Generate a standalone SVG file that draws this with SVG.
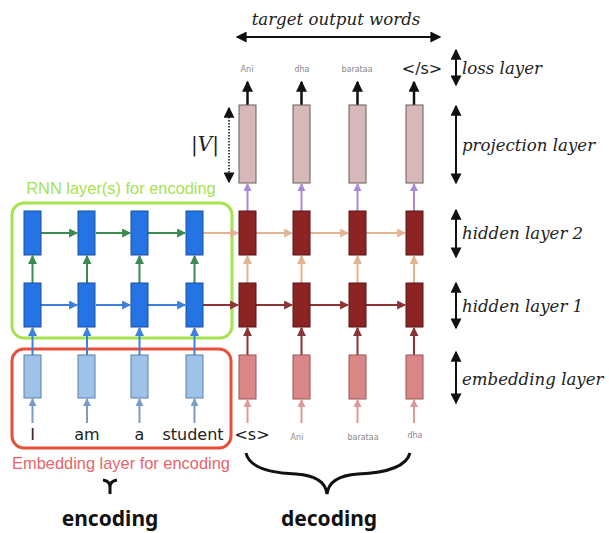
<svg xmlns="http://www.w3.org/2000/svg" width="609" height="533" viewBox="0 0 609 533">
<style>
.lbl{font-family:"DejaVu Serif","Liberation Serif",serif;font-style:italic;font-size:16.6px;fill:#222}
.word{font-family:"DejaVu Sans","Liberation Sans",sans-serif;font-size:16px;fill:#222}
.tiny{font-family:"DejaVu Sans","Liberation Sans",sans-serif;font-size:8px;fill:#888}
.big{font-family:"Noto Sans","DejaVu Sans",sans-serif;font-weight:bold;font-size:21px;fill:#111}
.cap{font-family:"Liberation Sans","Arial",sans-serif;font-size:16.4px}
.eh{fill:#2474e4;stroke:#1a4f9e;stroke-width:1}
.ee{fill:#9fc2e8;stroke:#5a7fa8;stroke-width:1}
.dh{fill:#8c2424;stroke:#5a1414;stroke-width:1}
.de{fill:#d98686;stroke:#9a5555;stroke-width:1}
.dp{fill:#d6b8b8;stroke:#6e5a5a;stroke-width:1}
.a{fill:none;stroke-width:2}
.lb{stroke:#7a9cc4;marker-end:url(#mLBlue)}
.bl{stroke:#3b80dc;marker-end:url(#mBlue)}
.gr{stroke:#3a8a52;marker-end:url(#mGreen)}
.tn{stroke:#e2b494;marker-end:url(#mTan)}
.dk{stroke:#8c3434;marker-end:url(#mDark)}
.pk{stroke:#dc9a9a;marker-end:url(#mPink)}
.pu{stroke:#a88ad8;marker-end:url(#mPurple)}
.out{fill:none;stroke:#111;stroke-width:2.5;marker-end:url(#mBlack)}
.dbl{fill:none;stroke:#111;stroke-width:2;marker-start:url(#mBlack);marker-end:url(#mBlack)}
</style>
<defs>
<marker id="mBlue" viewBox="0 0 8 8" refX="7" refY="4" markerWidth="9" markerHeight="9" markerUnits="userSpaceOnUse" orient="auto"><path d="M0,0L8,4L0,8z" fill="#3b80dc"/></marker>
<marker id="mLBlue" viewBox="0 0 8 8" refX="7" refY="4" markerWidth="8" markerHeight="8" markerUnits="userSpaceOnUse" orient="auto"><path d="M0,0L8,4L0,8z" fill="#7a9cc4"/></marker>
<marker id="mGreen" viewBox="0 0 8 8" refX="7" refY="4" markerWidth="9" markerHeight="9" markerUnits="userSpaceOnUse" orient="auto"><path d="M0,0L8,4L0,8z" fill="#3a8a52"/></marker>
<marker id="mTan" viewBox="0 0 8 8" refX="7" refY="4" markerWidth="9" markerHeight="9" markerUnits="userSpaceOnUse" orient="auto"><path d="M0,0L8,4L0,8z" fill="#e2b494"/></marker>
<marker id="mDark" viewBox="0 0 8 8" refX="7" refY="4" markerWidth="9" markerHeight="9" markerUnits="userSpaceOnUse" orient="auto"><path d="M0,0L8,4L0,8z" fill="#8c3434"/></marker>
<marker id="mPink" viewBox="0 0 8 8" refX="7" refY="4" markerWidth="8" markerHeight="8" markerUnits="userSpaceOnUse" orient="auto"><path d="M0,0L8,4L0,8z" fill="#dc9a9a"/></marker>
<marker id="mPurple" viewBox="0 0 8 8" refX="7" refY="4" markerWidth="8" markerHeight="8" markerUnits="userSpaceOnUse" orient="auto"><path d="M0,0L8,4L0,8z" fill="#a88ad8"/></marker>
<marker id="mBlack" viewBox="0 0 8 8" refX="7" refY="4" markerWidth="11" markerHeight="11" markerUnits="userSpaceOnUse" orient="auto-start-reverse"><path d="M0,0L8,4L0,8z" fill="#111"/></marker>
</defs>
<rect width="609" height="533" fill="#fff"/>

<g id="rnn-encoding-box">
<rect x="12" y="203" width="220" height="135" rx="12" fill="none" stroke="#a6e34e" stroke-width="3"/>
<text class="cap" x="121" y="194" text-anchor="middle" fill="#a6e34e">RNN layer(s) for encoding</text>
</g>
<g id="embedding-encoding-box">
<rect x="12" y="349" width="219" height="99" rx="12" fill="none" stroke="#e8503a" stroke-width="3"/>
<text class="cap" x="121" y="469" text-anchor="middle" fill="#e8646a">Embedding layer for encoding</text>
</g>

<g id="connectors">
<path class="a lb" d="M32.5,423V399"/><path class="a lb" d="M87,423V399"/><path class="a lb" d="M139.5,423V399"/><path class="a lb" d="M194.5,423V399"/>
<path class="a bl" d="M32.5,355V328"/><path class="a bl" d="M87,355V328"/><path class="a bl" d="M139.5,355V328"/><path class="a bl" d="M194.5,355V328"/>
<path class="a bl" d="M41,305H77"/><path class="a bl" d="M96,305H130"/><path class="a bl" d="M148,305H185"/>
<path class="a gr" d="M32.5,283V256"/><path class="a gr" d="M87,283V256"/><path class="a gr" d="M139.5,283V256"/><path class="a gr" d="M194.5,283V256"/>
<path class="a gr" d="M41,233H77"/><path class="a gr" d="M96,233H130"/><path class="a gr" d="M148,233H185"/>
<path class="a tn" d="M203,233H238"/>
<path class="a dk" d="M203,305H238"/>
<path class="a pk" d="M247.5,423V400"/><path class="a pk" d="M301.5,423V400"/><path class="a pk" d="M357.5,423V400"/><path class="a pk" d="M414,423V400"/>
<path class="a dk" d="M247.5,355V328"/><path class="a dk" d="M301.5,355V328"/><path class="a dk" d="M357.5,355V328"/><path class="a dk" d="M414,355V328"/>
<path class="a dk" d="M256,305H292"/><path class="a dk" d="M310,305H348"/><path class="a dk" d="M366,305H405"/>
<path class="a tn" d="M247.5,283V256"/><path class="a tn" d="M301.5,283V256"/><path class="a tn" d="M357.5,283V256"/><path class="a tn" d="M414,283V256"/>
<path class="a tn" d="M256,233H292"/><path class="a tn" d="M310,233H348"/><path class="a tn" d="M366,233H405"/>
<path class="a pu" d="M247.5,211V184"/><path class="a pu" d="M301.5,211V184"/><path class="a pu" d="M357.5,211V184"/><path class="a pu" d="M414,211V184"/>
<path class="out" d="M247.5,105V82"/><path class="out" d="M301.5,105V82"/><path class="out" d="M357.5,105V82"/><path class="out" d="M414,105V82"/>
<path fill="none" stroke="#111" stroke-width="1.5" stroke-dasharray="1.5,1.5" marker-start="url(#mBlack)" marker-end="url(#mBlack)" d="M229,108V182"/>
<path class="dbl" d="M237,37H440"/>
<path class="dbl" d="M456,50V85"/>
<path class="dbl" d="M456,106V183"/>
<path class="dbl" d="M456,210V257"/>
<path class="dbl" d="M456,283V328"/>
<path class="dbl" d="M456,352V403"/>
<path fill="none" stroke="#111" stroke-width="3" d="M103,480Q110,481 110,487V494M117,480Q110,481 110,487"/>
<path fill="none" stroke="#111" stroke-width="3" d="M246,453Q250,472 296,474Q325,476 327,494M410,453Q405,472 358,474Q329,476 327,494"/>
</g>

<g id="enc-emb-1"><rect class="ee" x="24" y="355" width="17" height="43"/></g>
<g id="enc-emb-2"><rect class="ee" x="78" y="355" width="17" height="43"/></g>
<g id="enc-emb-3"><rect class="ee" x="131" y="355" width="17" height="43"/></g>
<g id="enc-emb-4"><rect class="ee" x="186" y="355" width="17" height="43"/></g>
<g id="enc-h1-1"><rect class="eh" x="24" y="283" width="17" height="44"/></g>
<g id="enc-h1-2"><rect class="eh" x="78" y="283" width="17" height="44"/></g>
<g id="enc-h1-3"><rect class="eh" x="131" y="283" width="17" height="44"/></g>
<g id="enc-h1-4"><rect class="eh" x="186" y="283" width="17" height="44"/></g>
<g id="enc-h2-1"><rect class="eh" x="24" y="211" width="17" height="44"/></g>
<g id="enc-h2-2"><rect class="eh" x="78" y="211" width="17" height="44"/></g>
<g id="enc-h2-3"><rect class="eh" x="131" y="211" width="17" height="44"/></g>
<g id="enc-h2-4"><rect class="eh" x="186" y="211" width="17" height="44"/></g>

<g id="dec-emb-1"><rect class="de" x="239" y="355" width="17" height="44"/></g>
<g id="dec-emb-2"><rect class="de" x="293" y="355" width="17" height="44"/></g>
<g id="dec-emb-3"><rect class="de" x="349" y="355" width="17" height="44"/></g>
<g id="dec-emb-4"><rect class="de" x="406" y="355" width="17" height="44"/></g>
<g id="dec-h1-1"><rect class="dh" x="239" y="283" width="17" height="44"/></g>
<g id="dec-h1-2"><rect class="dh" x="293" y="283" width="17" height="44"/></g>
<g id="dec-h1-3"><rect class="dh" x="349" y="283" width="17" height="44"/></g>
<g id="dec-h1-4"><rect class="dh" x="406" y="283" width="17" height="44"/></g>
<g id="dec-h2-1"><rect class="dh" x="239" y="211" width="17" height="44"/></g>
<g id="dec-h2-2"><rect class="dh" x="293" y="211" width="17" height="44"/></g>
<g id="dec-h2-3"><rect class="dh" x="349" y="211" width="17" height="44"/></g>
<g id="dec-h2-4"><rect class="dh" x="406" y="211" width="17" height="44"/></g>
<g id="dec-proj-1"><rect class="dp" x="239" y="105" width="17" height="78"/></g>
<g id="dec-proj-2"><rect class="dp" x="293" y="105" width="17" height="78"/></g>
<g id="dec-proj-3"><rect class="dp" x="349" y="105" width="17" height="78"/></g>
<g id="dec-proj-4"><rect class="dp" x="406" y="105" width="17" height="78"/></g>

<g id="source-words">
<text class="word" x="32.5" y="440" text-anchor="middle">I</text>
<text class="word" x="87" y="440" text-anchor="middle">am</text>
<text class="word" x="139.5" y="440" text-anchor="middle">a</text>
<text class="word" x="193" y="440" text-anchor="middle">student</text>
</g>
<g id="decoder-inputs">
<text class="word" x="252" y="440" text-anchor="middle">&lt;s&gt;</text>
<text class="tiny" x="297" y="440" text-anchor="middle">Ani</text>
<text class="tiny" x="363" y="440" text-anchor="middle">barataa</text>
<text class="tiny" x="415" y="438" text-anchor="middle">dha</text>
</g>
<g id="outputs">
<text class="tiny" x="247" y="72" text-anchor="middle">Ani</text>
<text class="tiny" x="302" y="72" text-anchor="middle">dha</text>
<text class="tiny" x="357" y="72" text-anchor="middle">barataa</text>
<text class="word" x="422" y="74" text-anchor="middle">&lt;/s&gt;</text>
</g>
<text class="lbl" x="336" y="25" text-anchor="middle" font-size="17">target output words</text>
<text class="lbl" x="205" y="151" text-anchor="middle" style="font-size:20px">|V|</text>
<text class="lbl" x="462" y="74">loss layer</text>
<text class="lbl" x="462" y="151">projection layer</text>
<text class="lbl" x="462" y="239">hidden layer 2</text>
<text class="lbl" x="462" y="312">hidden layer 1</text>
<text class="lbl" x="462" y="385">embedding layer</text>
<text class="big" x="110" y="526" text-anchor="middle">encoding</text>
<text class="big" x="329" y="526" text-anchor="middle">decoding</text>
</svg>
